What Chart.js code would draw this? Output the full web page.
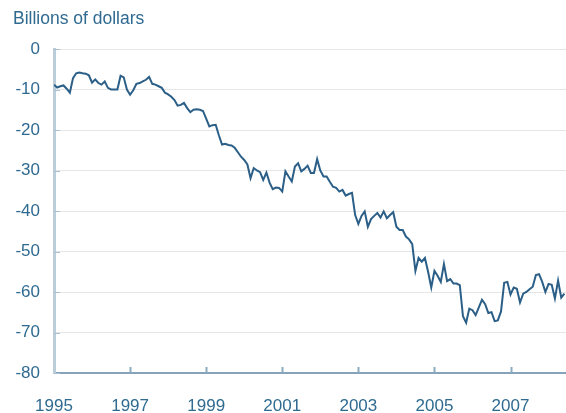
<!DOCTYPE html>
<html>
<head>
<meta charset="utf-8">
<script src="https://cdn.jsdelivr.net/npm/chart.js@4.4.0/dist/chart.umd.min.js"></script>
<style>
  html, body { margin: 0; padding: 0; background: #fff; }
</style>
</head>
<body>
<canvas id="chart" width="566" height="413"></canvas>
<script>
// monthly balance, billions of dollars, Jan 1995 .. Jun 2008
const startYear = 1995;
const bal1995 = [-8.8, -9.5, -9.2, -9.0, -9.8, -10.8, -7.2, -6.0, -5.8, -6.0, -6.1, -6.5];
const bal1996 = [-8.3, -7.5, -8.4, -8.8, -8.0, -9.6, -10.0, -10.0, -10.0, -6.6, -7.0, -10.0];
const bal1997 = [-11.3, -10.2, -8.6, -8.4, -8.0, -7.6, -6.9, -8.6, -8.8, -9.2, -9.6, -10.8];
const bal1998 = [-11.2, -11.8, -12.6, -14.0, -13.8, -13.3, -14.6, -15.6, -15.0, -14.9, -15.0, -15.3];
const bal1999 = [-17.2, -19.1, -18.8, -18.7, -21.3, -23.6, -23.4, -23.7, -23.8, -24.4, -25.5, -26.6];
const bal2000 = [-27.4, -28.5, -31.9, -29.4, -30.0, -30.4, -32.3, -30.5, -33.0, -34.6, -34.2, -34.3];
const bal2001 = [-35.2, -30.2, -31.5, -32.7, -29.0, -28.2, -30.2, -29.6, -28.8, -30.6, -30.6, -27.2];
const bal2002 = [-30.0, -31.5, -31.5, -32.8, -34.0, -34.3, -35.2, -34.8, -36.2, -35.8, -35.5, -41.0];
const bal2003 = [-43.2, -41.2, -40.1, -43.9, -42.0, -41.2, -40.5, -41.6, -40.1, -41.8, -41.0, -40.3];
const bal2004 = [-43.9, -44.7, -44.7, -46.3, -47.0, -48.2, -54.8, -51.6, -52.5, -51.6, -55.0, -58.9];
const bal2005 = [-54.8, -56.0, -57.5, -53.1, -57.3, -56.8, -57.9, -57.9, -58.3, -66.0, -67.6, -64.1];
const bal2006 = [-64.5, -65.7, -63.8, -61.9, -63.0, -65.2, -65.0, -67.2, -67.0, -64.8, -57.7, -57.5];
const bal2007 = [-60.6, -58.9, -59.2, -62.6, -60.4, -60.0, -59.3, -58.7, -55.8, -55.6, -57.5, -60.0];
const bal2008 = [-58.0, -58.2, -61.6, -57.2, -61.4, -60.4];

const yearTicks = [1995, 1997, 1999, 2001, 2003, 2005, 2007];
const valueTicks = [0, -10, -20, -30, -40, -50, -60, -70, -80];
const yTitle = 'Billions of dollars';

const monthly = [].concat(bal1995, bal1996, bal1997, bal1998, bal1999, bal2000, bal2001,
  bal2002, bal2003, bal2004, bal2005, bal2006, bal2007, bal2008);
const points = monthly.map((v, i) => ({ x: startYear + i / 12, y: v }));

const textColor = '#2f6a91';
const fontFamily = '"Liberation Sans", Arial, sans-serif';

// small inside tick marks + the unit label in the corner
const extras = {
  id: 'extras',
  afterDraw(chart) {
    const { ctx, chartArea, scales } = chart;
    ctx.save();
    ctx.strokeStyle = '#8fabc0';
    ctx.lineWidth = 2;
    ctx.beginPath();
    yearTicks.slice(1).forEach(v => {
      const px = Math.round(scales.x.getPixelForValue(v)) + 0.5;
      ctx.moveTo(px, chartArea.bottom);
      ctx.lineTo(px, chartArea.bottom - 6);
    });
    ctx.stroke();
    ctx.strokeStyle = '#a9c0d0';
    ctx.lineWidth = 1;
    ctx.beginPath();
    valueTicks.forEach(v => {
      const py = Math.round(scales.y.getPixelForValue(v)) + 0.5;
      ctx.moveTo(chartArea.left, py);
      ctx.lineTo(chartArea.left + 6, py);
    });
    ctx.stroke();
    ctx.fillStyle = textColor;
    ctx.font = '17.5px ' + fontFamily;
    ctx.textBaseline = 'alphabetic';
    ctx.fillText(yTitle, 13, 24);
    ctx.restore();
  }
};

new Chart(document.getElementById('chart').getContext('2d'), {
  type: 'line',
  data: {
    datasets: [{
      data: points,
      borderColor: '#2b5f87',
      borderWidth: 2,
      pointRadius: 0,
      tension: 0,
      fill: false
    }]
  },
  plugins: [extras],
  options: {
    responsive: false,
    devicePixelRatio: 1,
    animation: false,
    layout: { padding: { top: 49, right: 0, bottom: 0, left: 0 } },
    plugins: { legend: { display: false }, tooltip: { enabled: false } },
    scales: {
      x: {
        type: 'linear',
        min: startYear,
        max: startYear + 161.5 / 12,
        afterBuildTicks: (scale) => { scale.ticks = yearTicks.map(v => ({ value: v })); },
        afterFit: (scale) => { scale.height = 40; },
        grid: { display: false, drawTicks: false },
        border: { display: true, color: '#86a3b9', width: 2 },
        ticks: {
          color: textColor,
          font: { family: fontFamily, size: 17 },
          padding: 23,
          maxRotation: 0,
          autoSkip: false,
          callback: (v) => String(v)
        }
      },
      y: {
        min: -80,
        max: 0,
        afterBuildTicks: (scale) => { scale.ticks = valueTicks.map(v => ({ value: v })); },
        afterFit: (scale) => { scale.width = 54; },
        grid: { color: '#e6e6e6', lineWidth: 1, drawTicks: false },
        border: { display: true, color: '#bccdda', width: 3 },
        ticks: {
          color: textColor,
          font: { family: fontFamily, size: 17 },
          padding: 14,
          callback: (v) => String(v)
        }
      }
    }
  }
});
</script>
</body>
</html>
